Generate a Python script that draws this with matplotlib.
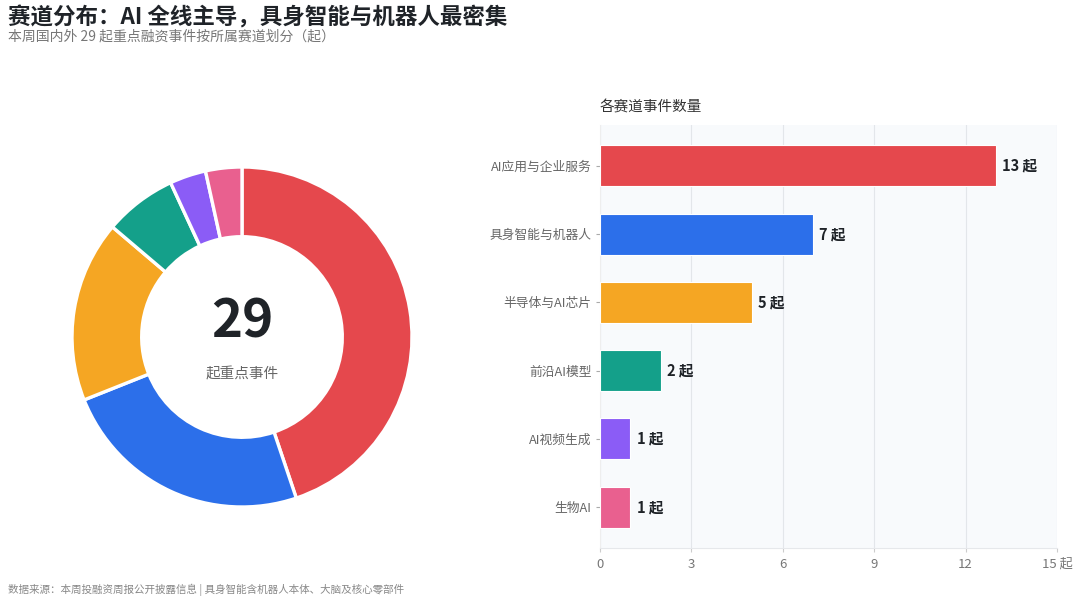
import numpy as np
import matplotlib.pyplot as plt

plt.rcParams['font.family'] = ['Noto Sans CJK SC', 'DejaVu Sans']

# data
categories = ["AI应用与企业服务", "具身智能与机器人", "半导体与AI芯片", "前沿AI模型", "AI视频生成", "生物AI"]
counts = [13, 7, 5, 2, 1, 1]
colors = ["#e5484d", "#2c6fea", "#f5a623", "#14a08a", "#8b5cf6", "#e9608f"]
x_ticks = [0, 3, 6, 9, 12, 15]
x_tick_labels = ["0", "3", "6", "9", "12", "15 起"]
total = sum(counts)

fig = plt.figure(figsize=(10.8, 6.05), dpi=100)
fig.patch.set_facecolor("white")

fig.text(8/1080, 1-18/605, "赛道分布：AI 全线主导，具身智能与机器人最密集",
         fontsize=16.2, fontweight="bold", color="#1f2328", va="center", ha="left")
fig.text(8/1080, 1-37/605, "本周国内外 29 起重点融资事件按所属赛道划分（起）",
         fontsize=10, color="#777777", va="center", ha="left")
fig.text(8/1080, 1-590/605, "数据来源：本周投融资周报公开披露信息 | 具身智能含机器人本体、大脑及核心零部件",
         fontsize=7.6, color="#888888", va="center", ha="left")

# donut
cx, cy, R = 242, 337, 170
ax1 = fig.add_axes([(cx-R)/1080, 1-(cy+R)/605, 2*R/1080, 2*R/605])
ax1.pie(counts, colors=colors, startangle=90, counterclock=False, radius=1,
        wedgeprops=dict(width=0.41, edgecolor="white", linewidth=2.4))
ax1.set_xlim(-1, 1)
ax1.set_ylim(-1, 1)
ax1.set_aspect("equal")
ax1.text(0, 0.09, str(total), fontsize=38, fontweight="bold", color="#1f2328",
         ha="center", va="center")
ax1.text(0, -0.22, "起重点事件", fontsize=10.5, color="#666666", ha="center", va="center")

# bars
ax2 = fig.add_axes([600/1080, 1-548/605, 457/1080, 423/605])
ax2.set_facecolor("#f8fafc")
y = np.arange(len(categories))
ax2.barh(y, counts, height=0.6, color=colors, edgecolor="white", linewidth=0.8, zorder=3)
for yi, c in zip(y, counts):
    ax2.text(c + 0.2, yi, f"{c} 起", fontsize=10.5, fontweight="bold", color="#1f2328",
             va="center", ha="left", zorder=4)
ax2.set_ylim(5.6, -0.6)
ax2.set_xlim(0, 15)
ax2.set_yticks(y)
ax2.set_yticklabels(categories, fontsize=9.2, color="#666666")
ax2.set_xticks(x_ticks)
ax2.set_xticklabels(x_tick_labels, fontsize=9.5, color="#777777")
ax2.tick_params(axis="y", length=3, color="#aaaaaa", pad=3)
ax2.tick_params(axis="x", length=3, color="#cccccc", pad=4)
ax2.grid(axis="x", color="#e3e6ea", linewidth=0.8, zorder=0)
for s in ["top", "right"]:
    ax2.spines[s].set_visible(False)
ax2.spines["bottom"].set_color("#e6e8eb")
ax2.spines["left"].set_color("#eeeeee")
ax2.set_title("各赛道事件数量", loc="left", fontsize=10.5, color="#333333", pad=10)

fig.savefig("out.png", dpi=100, facecolor="white")
